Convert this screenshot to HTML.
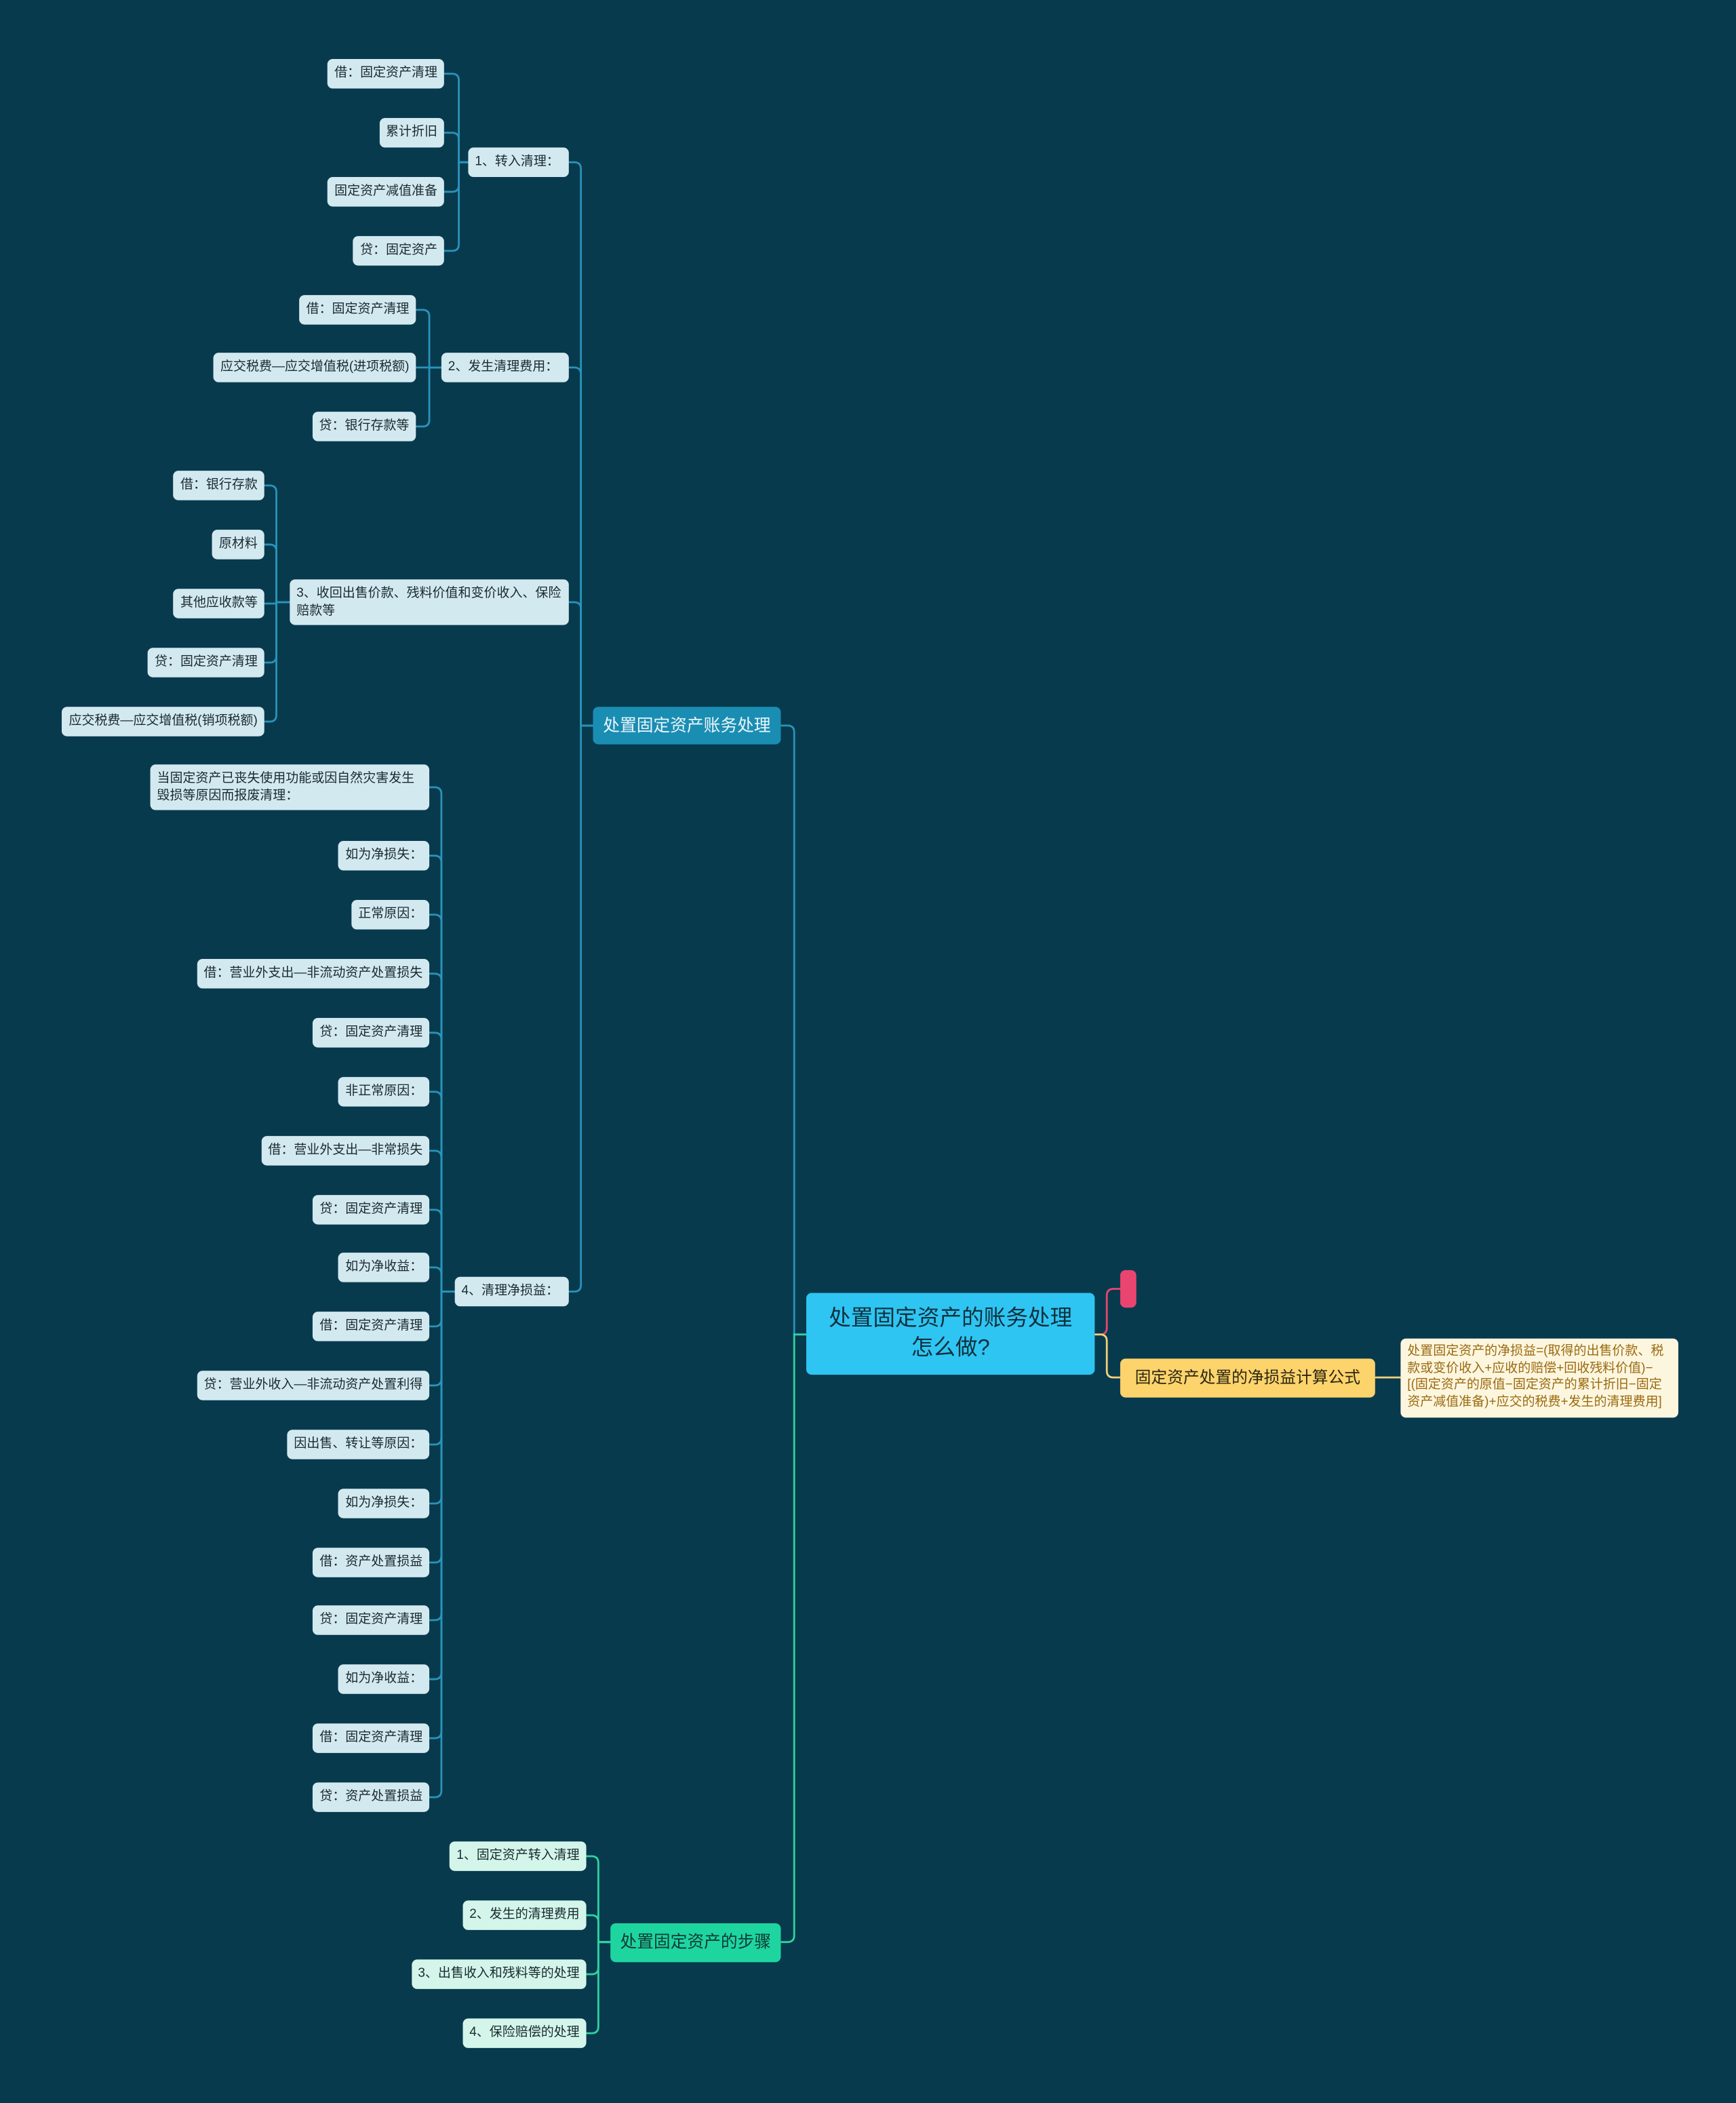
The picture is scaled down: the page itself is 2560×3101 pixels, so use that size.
<!DOCTYPE html>
<html><head><meta charset="utf-8">
<style>
html,body{margin:0;padding:0;background:#083a4e;}
#wrap{position:relative;width:1294px;height:1568px;transform:scale(1.97836,1.97768);transform-origin:0 0;background:#083a4e;font-family:"Liberation Sans","Noto Sans CJK SC",sans-serif;}
.n{position:absolute;box-sizing:border-box;white-space:nowrap;font-size:9.6px;line-height:22px;height:22px;padding:0 5px;border-radius:4px;background:#d3e9f0;color:#1a2a30;}
.m{background:#d4f6ea;}
svg{position:absolute;left:0;top:0;}
</style></head><body>
<div id="wrap">
<svg id="s" width="1294" height="1568" viewBox="0 0 1294 1568" fill="none" stroke-width="1.4"></svg>

<div class="n" style="right:963px;top:44px">借：固定资产清理</div>
<div class="n" style="right:963px;top:88px">累计折旧</div>
<div class="n" style="right:963px;top:132px">固定资产减值准备</div>
<div class="n" style="right:963px;top:176px">贷：固定资产</div>
<div class="n" style="left:349px;top:110px;width:75px">1、转入清理：</div>
<div class="n" style="right:984px;top:220px">借：固定资产清理</div>
<div class="n" style="right:984px;top:263px">应交税费—应交增值税(进项税额)</div>
<div class="n" style="right:984px;top:307px">贷：银行存款等</div>
<div class="n" style="left:329px;top:263px;width:95px">2、发生清理费用：</div>
<div class="n" style="right:1097px;top:351px">借：银行存款</div>
<div class="n" style="right:1097px;top:395px">原材料</div>
<div class="n" style="right:1097px;top:439px">其他应收款等</div>
<div class="n" style="right:1097px;top:483px">贷：固定资产清理</div>
<div class="n" style="right:1097px;top:527px">应交税费—应交增值税(销项税额)</div>
<div class="n" style="left:216px;top:432px;width:208px;height:34px;line-height:13px;padding:4px 5px;white-space:normal">3、收回出售价款、残料价值和变价收入、保险赔款等</div>
<div class="n" style="left:112px;top:570px;width:208px;height:34px;line-height:13px;padding:4px 5px;white-space:normal">当固定资产已丧失使用功能或因自然灾害发生毁损等原因而报废清理：</div>
<div class="n" style="right:974px;top:627px">如为净损失：</div>
<div class="n" style="right:974px;top:671px">正常原因：</div>
<div class="n" style="right:974px;top:715px">借：营业外支出—非流动资产处置损失</div>
<div class="n" style="right:974px;top:759px">贷：固定资产清理</div>
<div class="n" style="right:974px;top:803px">非正常原因：</div>
<div class="n" style="right:974px;top:847px">借：营业外支出—非常损失</div>
<div class="n" style="right:974px;top:891px">贷：固定资产清理</div>
<div class="n" style="right:974px;top:934px">如为净收益：</div>
<div class="n" style="right:974px;top:978px">借：固定资产清理</div>
<div class="n" style="right:974px;top:1022px">贷：营业外收入—非流动资产处置利得</div>
<div class="n" style="right:974px;top:1066px">因出售、转让等原因：</div>
<div class="n" style="right:974px;top:1110px">如为净损失：</div>
<div class="n" style="right:974px;top:1154px">借：资产处置损益</div>
<div class="n" style="right:974px;top:1197px">贷：固定资产清理</div>
<div class="n" style="right:974px;top:1241px">如为净收益：</div>
<div class="n" style="right:974px;top:1285px">借：固定资产清理</div>
<div class="n" style="right:974px;top:1329px">贷：资产处置损益</div>
<div class="n" style="left:339px;top:952px;width:85px">4、清理净损益：</div>

<div class="n" style="left:442px;top:527px;width:140px;height:28px;line-height:28px;font-size:12.5px;background:#1a8db3;color:#eaf6fa;text-align:center">处置固定资产账务处理</div>

<div class="n" style="left:601px;top:964px;width:215px;height:61px;line-height:22px;padding:8px 4px;font-size:16.5px;background:#2ec5f3;color:#10303c;text-align:center;white-space:normal">处置固定资产的账务处理<br>怎么做?</div>

<div class="n" style="left:455px;top:1434px;width:127px;height:29px;line-height:29px;font-size:12.5px;background:#1ed5a0;color:#103a34;text-align:center">处置固定资产的步骤</div>
<div class="n m" style="right:857px;top:1373px">1、固定资产转入清理</div>
<div class="n m" style="right:857px;top:1417px">2、发生的清理费用</div>
<div class="n m" style="right:857px;top:1461px">3、出售收入和残料等的处理</div>
<div class="n m" style="right:857px;top:1505px">4、保险赔偿的处理</div>

<div class="n" style="left:835px;top:947px;width:12px;height:28px;padding:0;background:#ea4570"></div>
<div class="n" style="left:835px;top:1013px;width:190px;height:29px;line-height:29px;font-size:12px;background:#fdd36c;color:#2a2610;text-align:center">固定资产处置的净损益计算公式</div>
<div class="n" style="left:1044px;top:998px;width:207px;height:59px;line-height:12.6px;padding:4px 5px;font-size:9.6px;background:#fdf6df;color:#9a6a10;white-space:normal;word-break:break-all">处置固定资产的净损益=(取得的出售价款、税款或变价收入+应收的赔偿+回收残料价值)−[(固定资产的原值−固定资产的累计折旧−固定资产减值准备)+应交的税费+发生的清理费用]</div>
</div>
<script>
var s=document.getElementById('s'),h='';
function g(cr,cys,x,pcy,pl,col){cys.forEach(function(cy){var r=Math.min(5,Math.abs(cy-pcy));var d='M'+cr+','+cy+' H'+(x-r);if(r>0){d+=' Q'+x+','+cy+' '+x+','+(cy<pcy?cy+r:cy-r)+' V'+pcy;}d+=' H'+pl;h+='<path d="'+d+'" stroke="'+col+'"/>';});}
var B='#2a93ba';
g(331,[55,99,143,187],342,121,349,B);
g(310,[231,274,318],320,274,329,B);
g(197,[362,406,450,494,538],206,449,216,B);
g(320,[587,638,682,726,770,814,858,902,945,989,1033,1077,1121,1165,1208,1252,1296,1340],329,963,339,B);
g(424,[121,274,449,963],433,541,442,B);
g(582,[541],592,995,601,B);
g(582,[1448],592,995,601,'#2fd3a0');
g(437,[1384,1428,1472,1516],446,1448,455,'#2fd3a0');
var R='#e9466e',Y='#f2d27a';
h+='<path d="M816,995 H820 Q825,995 825,990 V966 Q825,961 830,961 H835" stroke="'+R+'"/>';
h+='<path d="M816,995 H820 Q825,995 825,1000 V1022 Q825,1027 830,1027 H835" stroke="'+Y+'"/>';
h+='<path d="M1025,1027 H1044" stroke="'+Y+'"/>';
s.innerHTML=h;
</script>
</body></html>
